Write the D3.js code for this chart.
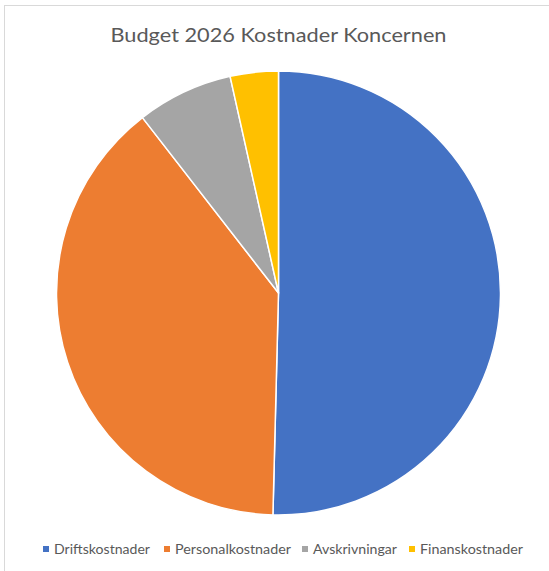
<!DOCTYPE html>
<html>
<head>
<meta charset="utf-8">
<script src="https://cdn.jsdelivr.net/npm/d3@7"></script>
<style>
  html, body { margin: 0; padding: 0; background: #fff; overflow: hidden; }
  svg { display: block; }
</style>
</head>
<body>
<svg id="chart" width="549" height="571"></svg>
<script>
const title = "Budget 2026 Kostnader Koncernen";
const categories = ["Driftskostnader", "Personalkostnader", "Avskrivningar", "Finanskostnader"];
const values = [50.4, 39.1, 7.0, 3.5];
const colors = ["#4472C4", "#ED7D31", "#A5A5A5", "#FFC000"];

const svg = d3.select("#chart");
const W = 549, H = 571;
const font = "Lato, 'Open Sans', sans-serif";

// chart area border
svg.append("rect")
  .attr("x", 4.5).attr("y", 5.5)
  .attr("width", W + 10).attr("height", H + 10)
  .attr("fill", "#fff")
  .attr("stroke", "#D9D9D9").attr("stroke-width", 1);

// title
const t = svg.append("text")
  .attr("x", 278.5).attr("y", 41.5)
  .attr("text-anchor", "middle")
  .attr("font-family", font)
  .attr("font-size", 19)
  .attr("fill", "#595959")
  .text(title);
t.attr("textLength", 336).attr("lengthAdjust", "spacingAndGlyphs");

// pie
const cx = 278.5, cy = 293, r = 222;
const data = categories.map((c, i) => ({ name: c, value: values[i], color: colors[i] }));
const pie = d3.pie().sort(null).value(d => d.value).startAngle(0).endAngle(2 * Math.PI);
const arc = d3.arc().innerRadius(0).outerRadius(r);
const color = d3.scaleOrdinal().domain(categories).range(colors);

svg.append("g")
  .attr("transform", `translate(${cx},${cy})`)
  .selectAll("path")
  .data(pie(data))
  .join("path")
  .attr("d", arc)
  .attr("fill", d => color(d.data.name))
  .attr("stroke", "#fff")
  .attr("stroke-width", 1.5)
  .attr("stroke-linejoin", "round");

// legend
const legendX = d3.scaleOrdinal().domain(categories).range([43, 164, 302, 409]);
const legendW = d3.scaleOrdinal().domain(categories).range([96, 116, 84, 103]);
const lg = svg.append("g");
categories.forEach(c => {
  const x = legendX(c);
  lg.append("rect")
    .attr("x", x).attr("y", 546)
    .attr("width", 6).attr("height", 6)
    .attr("fill", color(c));
  lg.append("text")
    .attr("x", x + 11).attr("y", 553.5)
    .attr("font-family", font)
    .attr("font-size", 13)
    .attr("fill", "#595959")
    .attr("textLength", legendW(c))
    .attr("lengthAdjust", "spacingAndGlyphs")
    .text(c);
});
</script>
</body>
</html>
